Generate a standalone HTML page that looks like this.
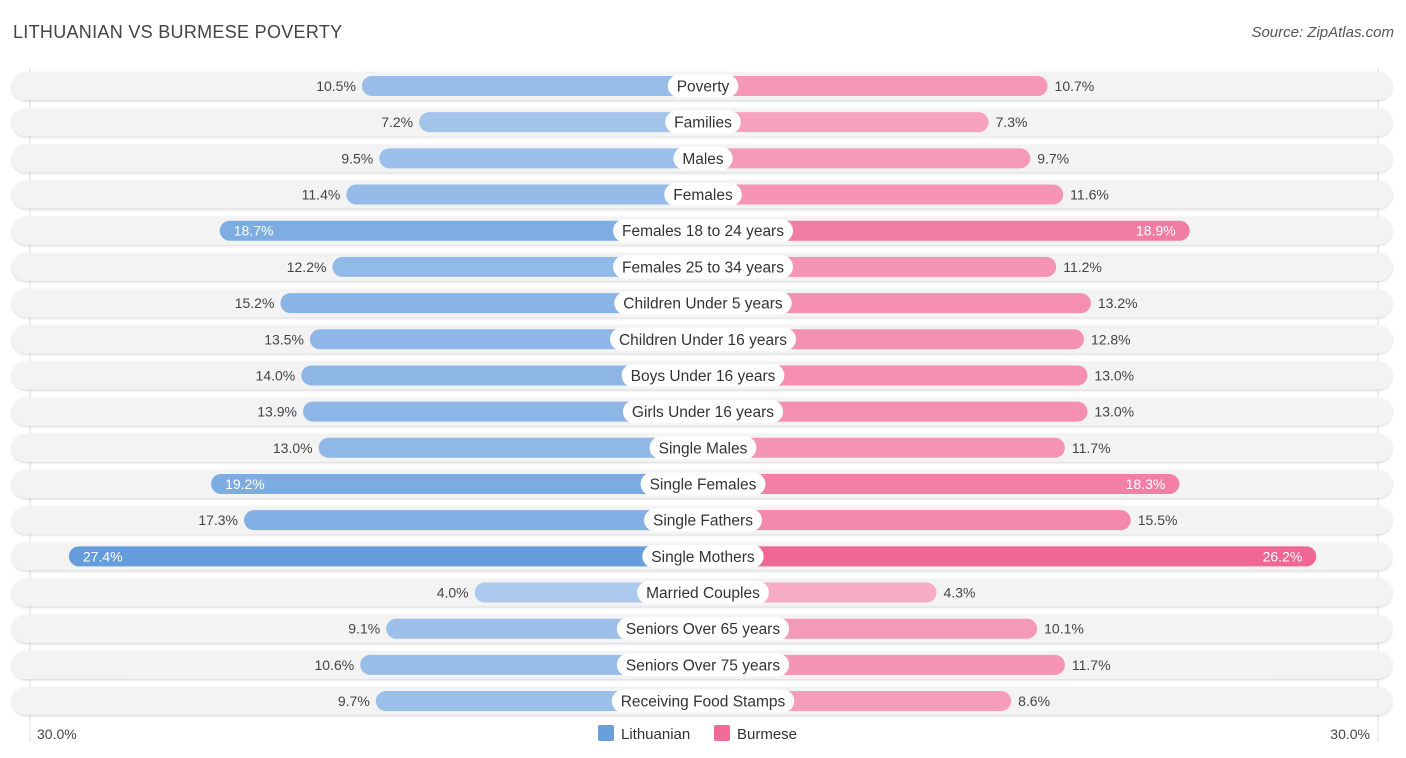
<!DOCTYPE html>
<html><head><meta charset="utf-8"><style>
body{margin:0;width:1406px;height:758px;background:#fff;font-family:"Liberation Sans",sans-serif;position:relative;overflow:hidden}
#title{position:absolute;left:13px;top:22px;font-size:18px;color:#444;letter-spacing:0.3px}
#source{position:absolute;right:12px;top:24px;font-size:15px;color:#555;font-style:italic}
svg{position:absolute;left:0;top:0}
</style></head><body>
<div id="title">LITHUANIAN VS BURMESE POVERTY</div>
<div id="source">Source: ZipAtlas.com</div>
<svg id="chart" width="1406" height="758"></svg>
<script>
const categories=["Poverty","Families","Males","Females","Females 18 to 24 years","Females 25 to 34 years","Children Under 5 years","Children Under 16 years","Boys Under 16 years","Girls Under 16 years","Single Males","Single Females","Single Fathers","Single Mothers","Married Couples","Seniors Over 65 years","Seniors Over 75 years","Receiving Food Stamps"];
const lithuanian=[10.5,7.2,9.5,11.4,18.7,12.2,15.2,13.5,14.0,13.9,13.0,19.2,17.3,27.4,4.0,9.1,10.6,9.7];
const burmese=[10.7,7.3,9.7,11.6,18.9,11.2,13.2,12.8,13.0,13.0,11.7,18.3,15.5,26.2,4.3,10.1,11.7,8.6];
const seriesNames=["Lithuanian","Burmese"];
const axisLabels=["30.0%","30.0%"];
const svg=document.getElementById('chart');
const NS="http://www.w3.org/2000/svg";
const cx=703, base=159, k=17.34, y0=86, dy=36.18;
function w(v){return base+v*k;}
function yRow(i){return y0+i*dy;}
function mk(t,a,p){const e=document.createElementNS(NS,t);for(const q in a)e.setAttribute(q,a[q]);(p||svg).appendChild(e);return e;}
function mix(a,b,t){return 'rgb('+a.map((x,i)=>Math.round(x+(b[i]-x)*t)).join(',')+')';}
const defs=mk('defs',{});
const f=mk('filter',{id:'sh',x:'-5%',y:'-50%',width:'110%',height:'200%'},defs);
mk('feDropShadow',{dx:0,dy:1,stdDeviation:1.2,'flood-color':'#000','flood-opacity':0.18},f);
mk('line',{x1:30,y1:68,x2:30,y2:742,stroke:'#ddd'});
mk('line',{x1:1378,y1:68,x2:1378,y2:742,stroke:'#ddd'});
categories.forEach((c,i)=>{
  const y=yRow(i);
  const bg=mk('rect',{x:12,y:y-14,width:1380,height:28,rx:14,fill:'#f3f3f3',filter:'url(#sh)'});
  
  
  const lv=lithuanian[i], bv=burmese[i];
  const tl=Math.min(1,Math.max(0,(lv-4)/23)), tb=Math.min(1,Math.max(0,(bv-4)/22));
  const lw=w(lv), bw=w(bv);
  const lb=mk('rect',{x:cx-lw,y:y-10,width:lw,height:20,rx:10,fill:mix([172,202,238],[100,156,220],tl)});
  
  
  const rb=mk('rect',{x:cx,y:y-10,width:bw,height:20,rx:10,fill:mix([247,172,198],[240,102,148],tb)});
  
  
  const inL=lv>18, inR=bv>18;
  const t1=mk('text',{x:inL?cx-lw+14:cx-lw-6,y:y+5,'font-size':14,fill:inL?'#fff':'#444','text-anchor':inL?'start':'end'});
  t1.textContent=lv.toFixed(1)+'%';
  
  
  const t2=mk('text',{x:inR?cx+bw-14:cx+bw+7,y:y+5,'font-size':14,fill:inR?'#fff':'#444','text-anchor':inR?'end':'start'});
  t2.textContent=bv.toFixed(1)+'%';
  
  
  const lab=mk('text',{x:cx,y:y+5.5,'font-size':15.5,fill:'#333','text-anchor':'middle'});
  lab.textContent=c;
  const tw=lab.getComputedTextLength();
  const pill=mk('rect',{x:cx-tw/2-9,y:y-11.5,width:tw+18,height:23,rx:11.5,fill:'#fff'});
  svg.insertBefore(pill,lab);
  
  
  
  
});
const a1=mk('text',{x:37,y:739,'font-size':14,fill:'#444'});a1.textContent=axisLabels[0];


const a2=mk('text',{x:1370,y:739,'font-size':14,fill:'#444','text-anchor':'end'});a2.textContent=axisLabels[1];


const lg=[[598,'#6a9fdc',seriesNames[0]],[714,'#f06b97',seriesNames[1]]];
lg.forEach(([x,col,n])=>{
  const s=mk('rect',{x:x,y:725,width:16,height:16,rx:2,fill:col});
  
  
  const t=mk('text',{x:x+23,y:739,'font-size':15,fill:'#333'});t.textContent=n;
  
  
});
</script>
</body></html>
